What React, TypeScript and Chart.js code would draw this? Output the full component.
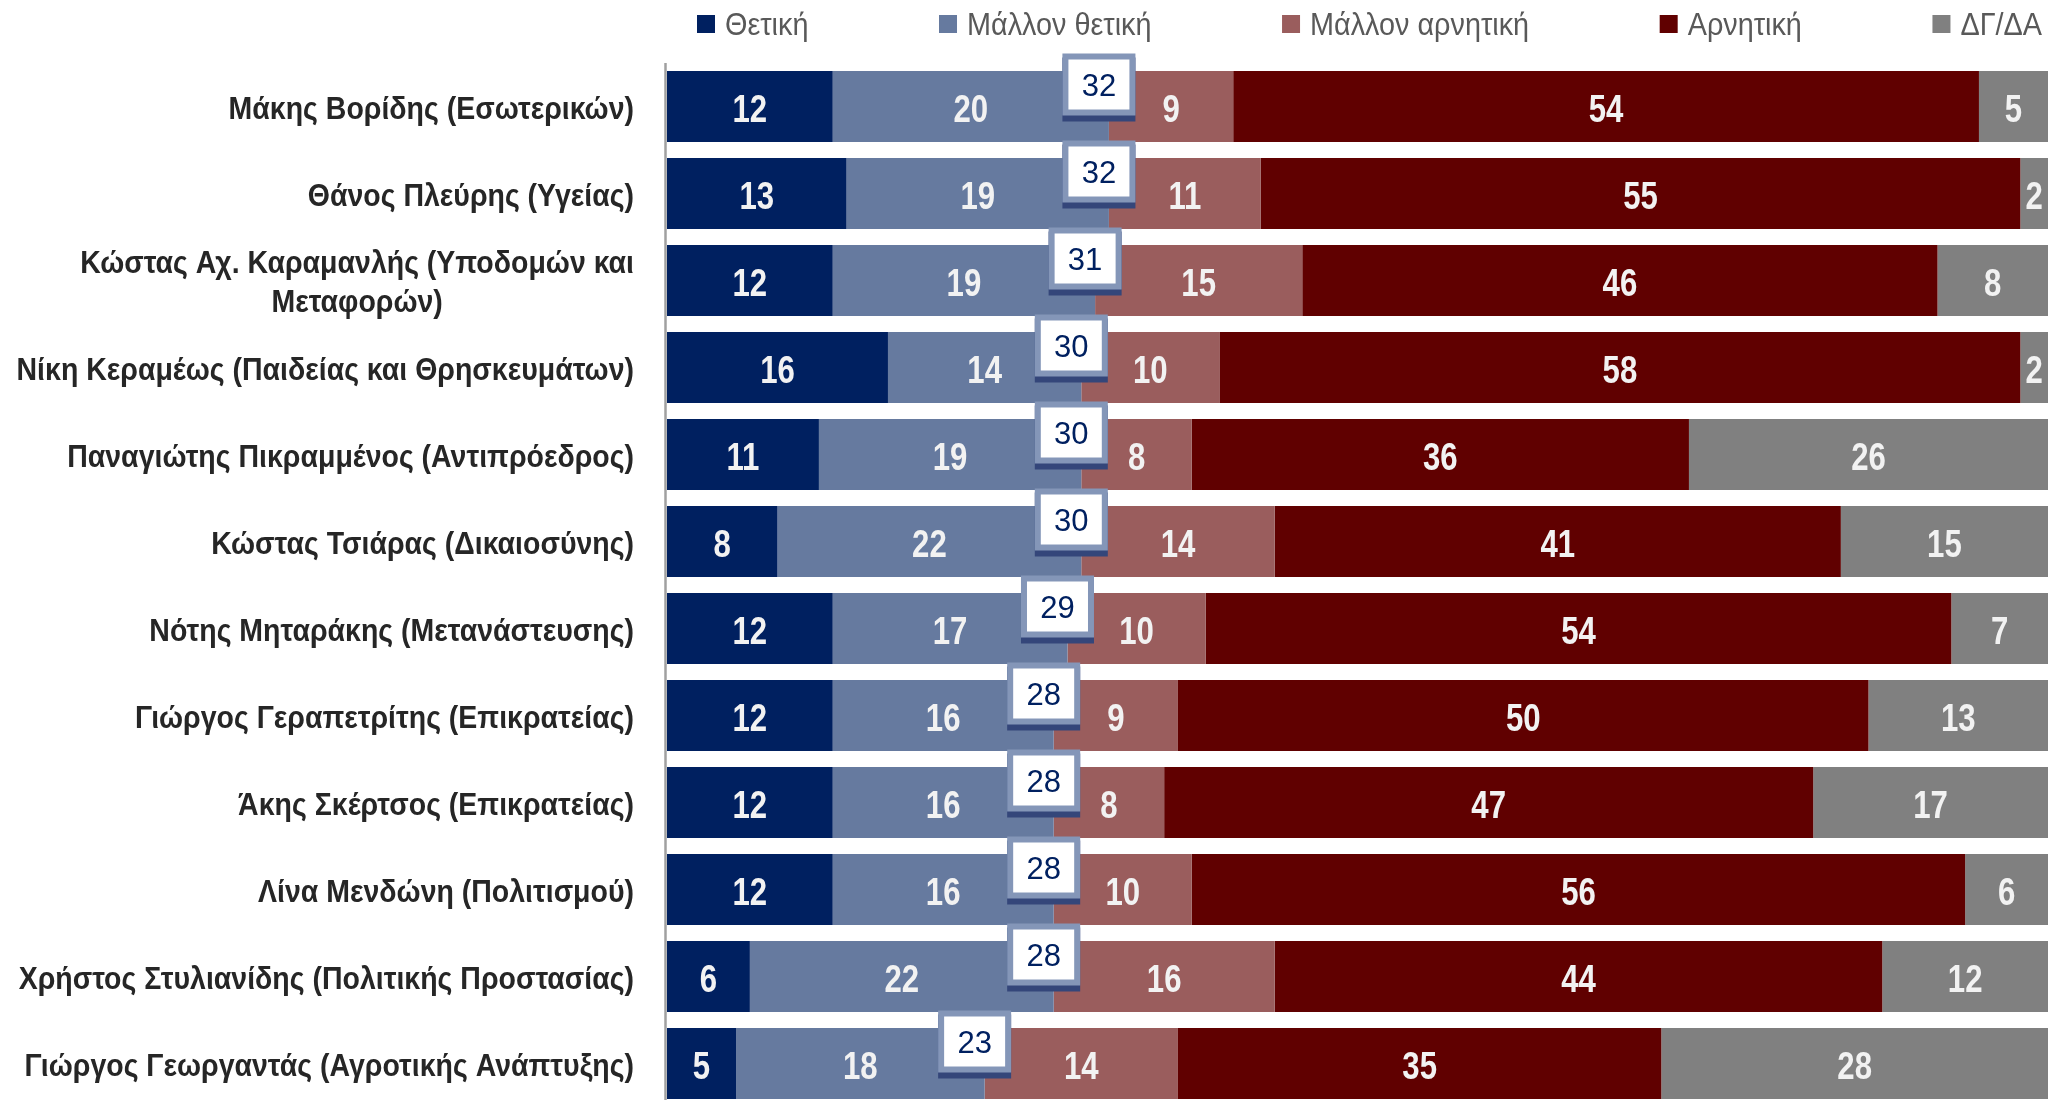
import React, { useEffect, useRef } from "react";
import { Chart, registerables } from "chart.js";
Chart.register(...registerables);

const categories: string[][] = [
  ["Μάκης Βορίδης (Εσωτερικών)"],
  ["Θάνος Πλεύρης (Υγείας)"],
  ["Κώστας Αχ. Καραμανλής (Υποδομών και", "Μεταφορών)"],
  ["Νίκη Κεραμέως (Παιδείας και Θρησκευμάτων)"],
  ["Παναγιώτης Πικραμμένος (Αντιπρόεδρος)"],
  ["Κώστας Τσιάρας (Δικαιοσύνης)"],
  ["Νότης Μηταράκης (Μετανάστευσης)"],
  ["Γιώργος Γεραπετρίτης (Επικρατείας)"],
  ["Άκης Σκέρτσος (Επικρατείας)"],
  ["Λίνα Μενδώνη (Πολιτισμού)"],
  ["Χρήστος Στυλιανίδης (Πολιτικής Προστασίας)"],
  ["Γιώργος Γεωργαντάς (Αγροτικής Ανάπτυξης)"],
];

const positive = [12, 13, 12, 16, 11, 8, 12, 12, 12, 12, 6, 5];
const ratherPositive = [20, 19, 19, 14, 19, 22, 17, 16, 16, 16, 22, 18];
const ratherNegative = [9, 11, 15, 10, 8, 14, 10, 9, 8, 10, 16, 14];
const negative = [54, 55, 46, 58, 36, 41, 54, 50, 47, 56, 44, 35];
const dkna = [5, 2, 8, 2, 26, 15, 7, 13, 17, 6, 12, 28];
const totalPositive = [32, 32, 31, 30, 30, 30, 29, 28, 28, 28, 28, 23];

const seriesNames = ["Θετική", "Μάλλον θετική", "Μάλλον αρνητική", "Αρνητική", "ΔΓ/ΔΑ"];
const seriesColors = ["#002060", "#667a9f", "#9a5d5d", "#600000", "#808080"];

const FONT = "'Liberation Sans', Arial, sans-serif";

function narrowWidth(ctx: CanvasRenderingContext2D, text: string, s: number) {
  return ctx.measureText(text).width * s;
}

function drawNarrow(
  ctx: CanvasRenderingContext2D,
  text: string,
  x: number,
  baseline: number,
  align: CanvasTextAlign,
  s: number
) {
  ctx.save();
  ctx.translate(x, baseline);
  ctx.scale(s, 1);
  ctx.textAlign = align;
  ctx.textBaseline = "alphabetic";
  ctx.fillText(text, 0, 0);
  ctx.restore();
}

const CAP = 0.716;

const overlayPlugin = {
  id: "overlay",
  afterDatasetsDraw(chart: any) {
    const ctx = chart.ctx as CanvasRenderingContext2D;
    const area = chart.chartArea;
    const xScale = chart.scales.x;
    const yScale = chart.scales.y;

    // axis line
    ctx.save();
    ctx.strokeStyle = "#a0a0a0";
    ctx.lineWidth = 2.5;
    ctx.beginPath();
    ctx.moveTo(area.left - 1.5, area.top);
    ctx.lineTo(area.left - 1.5, area.bottom);
    ctx.stroke();
    ctx.restore();

    // segment value labels
    ctx.save();
    const vSize = 38;
    const vScale = 0.82;
    ctx.font = `bold ${vSize}px ${FONT}`;
    chart.data.datasets.forEach((ds: any, d: number) => {
      const meta = chart.getDatasetMeta(d);
      meta.data.forEach((bar: any, i: number) => {
        const text = String(ds.data[i]);
        const cx = (bar.x + bar.base) / 2;
        const cy = bar.y;
        const w = Math.abs(bar.x - bar.base);
        const tw = narrowWidth(ctx, text, vScale);
        if (tw + 8 > w) {
          ctx.fillStyle = seriesColors[d];
          const bw = tw + 16;
          const bh = 53;
          ctx.fillRect(cx - bw / 2, cy - bh / 2, bw, bh);
        }
        ctx.fillStyle = "#f2f2f2";
        drawNarrow(ctx, text, cx, cy + (CAP * vSize) / 2 + 1.5, "center", vScale);
      });
    });
    ctx.restore();

    // total positive boxes
    ctx.save();
    const bSize = 31;
    ctx.font = `${bSize}px ${FONT}`;
    ctx.textAlign = "center";
    ctx.textBaseline = "alphabetic";
    totalPositive.forEach((t, i) => {
      const cx = xScale.getPixelForValue(t) - 10;
      const cy = yScale.getPixelForValue(i) - 21;
      const w = 73;
      const h = 64;
      const x0 = cx - w / 2;
      const y0 = cy - h / 2;
      ctx.fillStyle = "#34467a";
      ctx.fillRect(x0, y0 + 4, w, h);
      ctx.fillStyle = "#8496b8";
      ctx.fillRect(x0, y0, w, h - 2);
      ctx.fillStyle = "#ffffff";
      ctx.fillRect(x0 + 6, y0 + 6, w - 12, h - 14);
      ctx.fillStyle = "#002060";
      ctx.fillText(String(t), cx, cy + (CAP * bSize) / 2 - 1);
    });
    ctx.restore();
  },
  afterDraw(chart: any) {
    const ctx = chart.ctx as CanvasRenderingContext2D;
    const area = chart.chartArea;
    const yScale = chart.scales.y;

    // category labels
    ctx.save();
    const lSize = 32;
    const lScale = 0.89;
    ctx.font = `bold ${lSize}px ${FONT}`;
    ctx.fillStyle = "#262626";
    const rightEdge = area.left - 33;
    const lineH = 39;
    categories.forEach((lines, i) => {
      const cy = yScale.getPixelForValue(i);
      const maxW = Math.max(...lines.map((l) => narrowWidth(ctx, l, lScale)));
      const cx = rightEdge - maxW / 2;
      const startY = cy - ((lines.length - 1) * lineH) / 2;
      lines.forEach((l, k) =>
        drawNarrow(ctx, l, cx, startY + k * lineH + (CAP * lSize) / 2 + 1, "center", lScale)
      );
    });
    ctx.restore();

    // legend
    ctx.save();
    const gSize = 32;
    const gScale = 0.9;
    ctx.font = `${gSize}px ${FONT}`;
    const boxSize = 18;
    const boxGap = 10;
    const startX = 697;
    const endX = 2042;
    const widths = seriesNames.map((n) => boxSize + boxGap + narrowWidth(ctx, n, gScale));
    const total = widths.reduce((a, b) => a + b, 0);
    const gap = (endX - startX - total) / (seriesNames.length - 1);
    let x = startX;
    const ly = 24;
    seriesNames.forEach((n, k) => {
      ctx.fillStyle = seriesColors[k];
      ctx.fillRect(x, ly - boxSize / 2, boxSize, boxSize);
      ctx.fillStyle = "#595959";
      drawNarrow(ctx, n, x + boxSize + boxGap, ly + (CAP * gSize) / 2, "left", gScale);
      x += widths[k] + gap;
    });
    ctx.restore();
  },
};

export default function App() {
  const ref = useRef<HTMLCanvasElement | null>(null);
  useEffect(() => {
    if (!ref.current) return;
    const seriesData = [positive, ratherPositive, ratherNegative, negative, dkna];
    const chart = new Chart(ref.current, {
      type: "bar",
      data: {
        labels: categories.map((c) => c.join(" ")),
        datasets: seriesNames.map((name, k) => ({
          label: name,
          data: seriesData[k],
          backgroundColor: seriesColors[k],
          borderWidth: 0,
          barPercentage: 0.816,
          categoryPercentage: 1,
        })),
      },
      options: {
        indexAxis: "y",
        responsive: false,
        animation: false,
        layout: { padding: { left: 667, right: 14, top: 63, bottom: 3 } },
        scales: {
          x: { stacked: true, min: 0, max: 100, display: false },
          y: { stacked: true, display: false },
        },
        plugins: {
          legend: { display: false },
          tooltip: { enabled: false },
        },
      },
      plugins: [overlayPlugin],
    } as any);
    return () => chart.destroy();
  }, []);
  return (
    <div style={{ position: "fixed", left: 0, top: 0, width: 2062, height: 1110, background: "#fff" }}>
      <canvas ref={ref} width={2062} height={1110} style={{ display: "block" }} />
    </div>
  );
}
